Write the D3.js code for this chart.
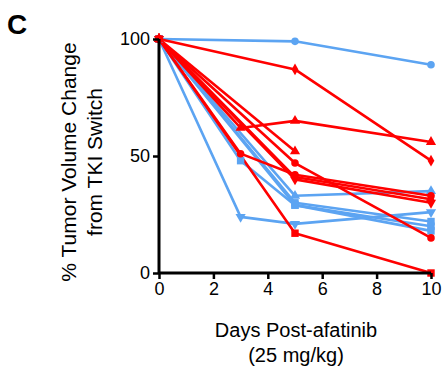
<!DOCTYPE html>
<html><head><meta charset="utf-8">
<script src="https://cdn.jsdelivr.net/npm/d3@7"></script>
<style>body{margin:0;background:#fff;}svg{display:block;font-family:Arial,"Liberation Sans",sans-serif;}</style>
</head><body><svg id="c" width="444" height="370"></svg>
<script>
const xTicks = [0, 2, 4, 6, 8, 10];
const yTicks = [0, 50, 100];
const blueColor = "#5ca4f2";
const redColor = "#ff0000";

// each series: [day, value] pairs
const blue1 = [[0,100],[5,99],[10,89]];
const blue2 = [[0,100],[3,24],[5,21],[10,26]];
const blue3 = [[0,100],[3,48],[5,29],[10,20]];
const blue4 = [[0,100],[5,33],[10,35]];
const blue5 = [[0,100],[5,30],[10,22]];
const blue6 = [[0,100],[5,29],[10,18]];

const red1 = [[0,100],[5,87],[10,48]];
const red2 = [[0,100],[3,62],[5,65],[10,56]];
const red3 = [[0,100],[5,52]];
const red4 = [[0,100],[5,47],[10,15]];
const red7 = [[0,100],[5,17],[10,0]];
const red5 = [[0,100],[3,51],[5,42],[10,33]];
const red6 = [[0,100],[5,40],[10,30]];
const red8 = [[0,100],[5,41],[10,31.5]];

const seriesList = [
  {d: blue1, c: blueColor, m: "circle"},
  {d: blue2, c: blueColor, m: "tridown"},
  {d: blue3, c: blueColor, m: "square"},
  {d: blue4, c: blueColor, m: "triangle"},
  {d: blue5, c: blueColor, m: "square"},
  {d: blue6, c: blueColor, m: "square"},
  {d: red1, c: redColor, m: "diamond"},
  {d: red2, c: redColor, m: "triangle"},
  {d: red3, c: redColor, m: "triangle"},
  {d: red4, c: redColor, m: "circle"},
  {d: red7, c: redColor, m: "square"},
  {d: red5, c: redColor, m: "circle"},
  {d: red6, c: redColor, m: "tridown"},
  {d: red8, c: redColor, m: "diamond"}
];

const svg = d3.select("#c");
const x = d3.scaleLinear().domain([0, 10]).range([159, 431]);
const y = d3.scaleLinear().domain([0, 100]).range([273, 39]);

const line = d3.line().x(d => x(d[0])).y(d => y(d[1]));
const symbols = {
  circle: d3.symbol().type(d3.symbolCircle).size(45),
  square: d3.symbol().type(d3.symbolSquare).size(55),
  triangle: d3.symbol().type(d3.symbolTriangle).size(45),
  tridown: d3.symbol().type(d3.symbolTriangle).size(45),
  diamond: d3.symbol().type(d3.symbolDiamond).size(40)
};

const g = svg.append("g");
seriesList.forEach(s => {
  g.append("path").attr("d", line(s.d)).attr("fill", "none")
    .attr("stroke", s.c).attr("stroke-width", 2.6).attr("stroke-linejoin", "round");
});
seriesList.forEach(s => {
  s.d.forEach(p => {
    g.append("path").attr("d", symbols[s.m]())
      .attr("transform", `translate(${x(p[0])},${y(p[1])})` + (s.m === "tridown" ? " rotate(180)" : ""))
      .attr("fill", s.c);
  });
});

// axes
const yAxis = svg.append("g").attr("transform", "translate(159,0)")
  .call(d3.axisLeft(y).tickValues(yTicks).tickSize(6).tickPadding(3));
const xAxis = svg.append("g").attr("transform", "translate(0,273)")
  .call(d3.axisBottom(x).tickValues(xTicks).tickSize(6).tickPadding(3));
[yAxis, xAxis].forEach(a => {
  a.select(".domain").attr("stroke", "#000").attr("stroke-width", 3);
  a.selectAll(".tick line").attr("stroke", "#000").attr("stroke-width", 2.5);
  a.selectAll(".tick text").attr("fill", "#000").attr("font-size", 18)
    .attr("font-family", "Arial, 'Liberation Sans', sans-serif");
});
yAxis.select(".domain").attr("d", "M0,273V39");
xAxis.select(".domain").attr("d", "M159,0H431");

// labels
svg.append("text").attr("x", 7).attr("y", 34).attr("font-size", 28).attr("font-weight", "bold").text("C");
svg.append("text").attr("x", 296).attr("y", 337).attr("text-anchor", "middle").attr("font-size", 20).text("Days Post-afatinib");
svg.append("text").attr("x", 296).attr("y", 362).attr("text-anchor", "middle").attr("font-size", 20).text("(25 mg/kg)");
const yl = svg.append("text").attr("transform", "translate(76,162) rotate(-90)").attr("text-anchor", "middle").attr("font-size", 21);
yl.append("tspan").attr("x", 0).attr("dy", 0).text("% Tumor Volume Change");
yl.append("tspan").attr("x", 0).attr("dy", 26).text("from TKI Switch");
</script></body></html>
